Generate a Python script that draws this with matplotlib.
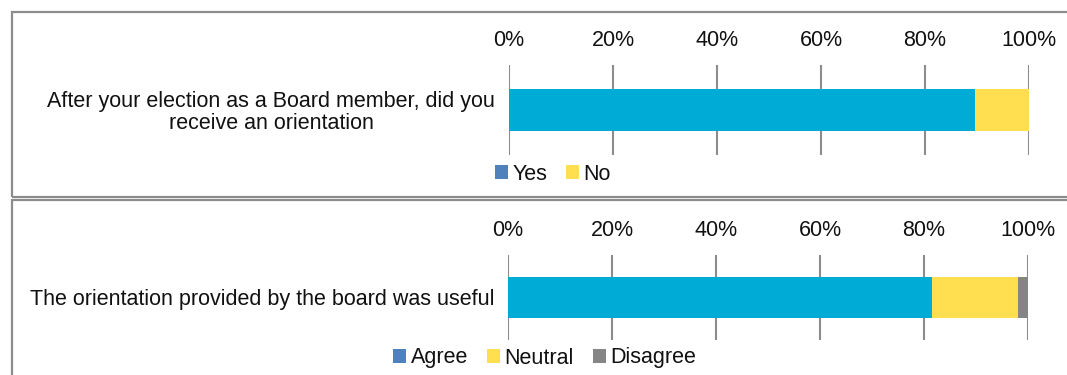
import matplotlib
matplotlib.use("Agg")
import matplotlib.pyplot as plt
from matplotlib.patches import Patch, Rectangle
from matplotlib.ticker import PercentFormatter

plt.rcParams['font.family'] = ['Liberation Sans', 'DejaVu Sans']

# Survey results (percent of respondents)
q1_label = "After your election as a Board member, did you\nreceive an orientation"
q1_series = ["Yes", "No"]
q1_values = [89.7, 10.3]

q2_label = "The orientation provided by the board was useful"
q2_series = ["Agree", "Neutral", "Disagree"]
q2_values = [81.5, 16.5, 2.0]

bar_colors = {"Yes": "#00ACD6", "No": "#FFDE50",
              "Agree": "#00ACD6", "Neutral": "#FFDE50", "Disagree": "#858585"}
legend_colors = {"Yes": "#4F81BD", "No": "#FFDE50",
                 "Agree": "#4F81BD", "Neutral": "#FFDE50", "Disagree": "#858585"}
x_ticks = [0, 20, 40, 60, 80, 100]

FS = 15.5
W, H = 1067, 375
fig = plt.figure(figsize=(W / 100, H / 100), dpi=100)

# panel frames
frame_kw = dict(transform=fig.transFigure, fill=False, edgecolor="#8C8C8C",
                linewidth=1.6, clip_on=False)
fig.patches.append(Rectangle((12 / W, 1 - 197 / H), 1.2, 185 / H, **frame_kw))
fig.patches.append(Rectangle((12 / W, -0.2), 1.2, 0.2 + (H - 200) / H, **frame_kw))


def stacked_panel(rect, label, series, values, bar_h, legend_xy):
    ax = fig.add_axes(rect)
    left = 0
    for name, v in zip(series, values):
        ax.barh([0], [v], left=left, height=bar_h, color=bar_colors[name],
                zorder=3)
        left += v
    ax.set_xlim(0, 100)
    ax.set_ylim(-0.5, 0.5)
    ax.set_xticks(x_ticks)
    ax.xaxis.set_major_formatter(PercentFormatter(decimals=0))
    ax.xaxis.tick_top()
    ax.tick_params(axis="x", length=0, pad=10, labelsize=FS, colors="#111111")
    ax.set_yticks([0])
    ax.set_yticklabels([label], fontsize=FS, multialignment="center",
                       color="#111111", linespacing=1.05)
    ax.tick_params(axis="y", length=0, pad=10)
    ax.grid(axis="x", color="#8C8C8C", linewidth=1.5, zorder=0)
    for s in ax.spines.values():
        s.set_visible(False)
    handles = [Patch(facecolor=legend_colors[n], edgecolor="none", label=n)
               for n in series]
    fig.legend(handles=handles, loc="center", ncol=len(series),
               bbox_to_anchor=legend_xy, frameon=False, fontsize=FS,
               handlelength=0.6, handleheight=0.6, handletextpad=0.2,
               columnspacing=0.9, labelcolor="#111111")
    return ax


stacked_panel([509 / W, 1 - 155 / H, 520 / W, 90 / H], q1_label,
              q1_series, q1_values, 0.467, (553 / W, 1 - 174 / H))
stacked_panel([508 / W, 1 - 340 / H, 520 / W, 85 / H], q2_label,
              q2_series, q2_values, 0.48, (545 / W, 1 - 358 / H))

fig.savefig("out.png", dpi=100)
